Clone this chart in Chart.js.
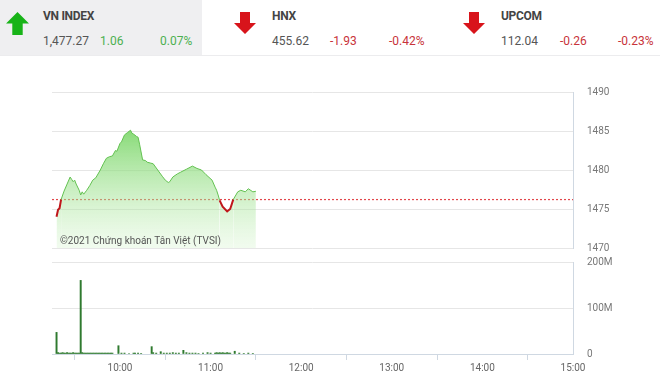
<!DOCTYPE html>
<html>
<head>
<meta charset="utf-8">
<script src="https://cdn.jsdelivr.net/npm/chart.js@4/dist/chart.umd.min.js"></script>
<style>
  body { margin: 0; width: 660px; height: 383px; background: #fff; font-family: Roboto, "Noto Sans", sans-serif; overflow: hidden; position: relative; }
  .hdr { position: absolute; top: 0; left: 0; width: 660px; height: 55px; border-bottom: 1px solid #ececee; }
  .box { position: absolute; top: 0; height: 55px; }
  .box.on { background: #efeff1; }
  .name { position: absolute; top: 9px; font-size: 12px; font-weight: bold; color: #444; letter-spacing: -0.3px; }
  .val { position: absolute; top: 34px; font-size: 12px; color: #555; }
  .up { color: #4cb050; }
  .dn { color: #c8333a; }
  .arrow { position: absolute; top: 11px; }
  canvas { position: absolute; left: 0; }
</style>
</head>
<body>
<div class="hdr">
  <div class="box on" style="left:0;width:202px"></div>
  <svg class="arrow" style="left:5px" width="25" height="25" viewBox="0 0 24 24"><path d="M12 1 L23 12 L17 12 L17 23 L7 23 L7 12 L1 12 Z" fill="#18b318"/></svg>
  <div class="name" style="left:43px">VN INDEX</div>
  <div class="val" style="left:43px">1,477.27</div>
  <div class="val up" style="left:100px">1.06</div>
  <div class="val up" style="left:160px">0.07%</div>

  <svg class="arrow" style="left:233px" width="24" height="24" viewBox="0 0 24 24"><path d="M12 23 L23 12 L17 12 L17 1 L7 1 L7 12 L1 12 Z" fill="#d8141b"/></svg>
  <div class="name" style="left:272px">HNX</div>
  <div class="val" style="left:272px">455.62</div>
  <div class="val dn" style="left:330px">-1.93</div>
  <div class="val dn" style="left:389px">-0.42%</div>

  <svg class="arrow" style="left:462px" width="24" height="24" viewBox="0 0 24 24"><path d="M12 23 L23 12 L17 12 L17 1 L7 1 L7 12 L1 12 Z" fill="#d8141b"/></svg>
  <div class="name" style="left:501px">UPCOM</div>
  <div class="val" style="left:501px">112.04</div>
  <div class="val dn" style="left:560px">-0.26</div>
  <div class="val dn" style="left:618px">-0.23%</div>
</div>

<canvas id="priceChart" width="660" height="196" style="top:72px"></canvas>
<canvas id="volChart" width="660" height="141" style="top:242px"></canvas>

<script>
// gia VN-Index theo phut
const priceTimes = ['9:18','9:19','9:20','9:21','9:23','9:25','9:27','9:28','9:29','9:30','9:31','9:33','9:34','9:35','9:36','9:38','9:40','9:42','9:44','9:47','9:49','9:51','9:53','9:55','9:57','9:58','10:00','10:01','10:03','10:05','10:07','10:08','10:09','10:11','10:12','10:13','10:15','10:17','10:18','10:20','10:22','10:25','10:28','10:30','10:32','10:33','10:35','10:38','10:40','10:44','10:48','10:51','10:54','10:57','11:01','11:03','11:04','11:05','11:06','11:08','11:11','11:13','11:15','11:18','11:20','11:23','11:25','11:28','11:30'];
const priceValues = [1474.0,1474.9,1475.1,1476.2,1477.3,1478.2,1479.1,1478.8,1478.5,1478.7,1478.2,1477.4,1476.8,1477.2,1476.9,1477.4,1478.0,1478.7,1479.0,1480.0,1480.8,1481.5,1481.7,1481.8,1482.5,1482.4,1483.4,1483.6,1484.5,1484.8,1485.1,1484.7,1484.6,1484.3,1484.2,1483.3,1481.3,1481.2,1481.0,1480.9,1480.8,1480.0,1479.2,1478.7,1478.4,1478.5,1479.1,1479.5,1479.7,1480.1,1480.5,1480.2,1480.0,1479.4,1478.7,1477.8,1477.4,1476.8,1476.1,1475.3,1474.7,1475.0,1476.2,1477.2,1477.4,1477.2,1477.6,1477.2,1477.27];
const refPrice = 1476.21;

// khoi luong (trieu cp)
const volTimes = ['9:18','9:19','9:20','9:21','9:22','9:23','9:24','9:25','9:26','9:27','9:28','9:29','9:30','9:31','9:32','9:33','9:34','9:35','9:36','9:37','9:38','9:39','9:40','9:41','9:42','9:43','9:44','9:45','9:46','9:47','9:48','9:49','9:50','9:51','9:52','9:53','9:54','9:55','9:59','10:01','10:03','10:06','10:09','10:10','10:12','10:14','10:21','10:22','10:24','10:27','10:29','10:31','10:33','10:35','10:37','10:39','10:42','10:44','10:46','10:48','10:50','10:52','10:55','10:58','11:00','11:03','11:04','11:05','11:06','11:07','11:08','11:09','11:10','11:11','11:12','11:13','11:16','11:19','11:22','11:25','11:28'];
const volValues = [47,3,2,2,3,2,2,3,2,2,2,3,2,2,2,2,160,3,2,2,2,2,2,2,2,2,2,2,2,2,2,2,2,2,2,2,2,2,18,2,2,1,2,2,2,1,16,3,2,5,2,2,2,3,2,2,8,3,2,2,2,1,2,3,2,2,3,2,3,2,3,2,2,3,2,2,6,2,1,2,1];

const hourTicks = [10, 11, 12, 13, 14, 15];
const priceTicks = [1470, 1475, 1480, 1485, 1490];
const volTicks = [0, 100, 200];

function toMin(t) {
    const p = t.split(':');
    return parseInt(p[0]) * 60 + parseInt(p[1]);
}

const xMin = 9 * 60 + 15;
const xMax = 15 * 60;
const green = '#62c150';
const red = '#c0161b';

const watermark = {
    id: 'watermark',
    afterDatasetsDraw(chart) {
        const ctx = chart.ctx;
        ctx.save();
        ctx.font = '10px Roboto';
        ctx.fillStyle = '#555';
        ctx.textBaseline = 'middle';
        ctx.fillText('©2021 Chứng khoán Tân Việt (TVSI)', 60, chart.chartArea.bottom - 7);
        ctx.restore();
    }
};

new Chart('priceChart', {
    type: 'line',
    data: {
        datasets: [{
            data: priceTimes.map((t, i) => ({x: toMin(t), y: priceValues[i]})),
            borderColor: green,
            borderWidth: 1,
            pointRadius: 0,
            tension: 0,
            fill: 'start',
            backgroundColor: function (context) {
                const area = context.chart.chartArea;
                if (!area) return 'rgba(120,210,100,0.5)';
                const g = context.chart.ctx.createLinearGradient(0, area.top + 35, 0, area.bottom);
                g.addColorStop(0, 'rgba(110,210,90,0.85)');
                g.addColorStop(1, 'rgba(200,240,190,0.25)');
                return g;
            },
            segment: {
                borderColor: ctx => (ctx.p0.parsed.y + ctx.p1.parsed.y) / 2 < refPrice ? red : green,
                borderWidth: ctx => (ctx.p0.parsed.y + ctx.p1.parsed.y) / 2 < refPrice ? 2 : 1
            }
        }, {
            data: [{x: xMin, y: refPrice}, {x: xMax, y: refPrice}],
            borderColor: '#e2464b',
            borderWidth: 1.2,
            borderDash: [2, 2],
            pointRadius: 0,
            fill: false
        }]
    },
    options: {
        responsive: false,
        animation: false,
        layout: { padding: { left: 52, top: 12, bottom: 7, right: 0 } },
        plugins: { legend: { display: false }, tooltip: { enabled: false } },
        scales: {
            x: { type: 'linear', min: xMin, max: xMax, display: false },
            y: {
                position: 'right',
                min: 1470,
                max: 1490,
                afterBuildTicks: s => { s.ticks = priceTicks.map(v => ({value: v})); },
                afterFit: s => { s.width = 87; },
                grid: { color: '#e6e6e6', drawTicks: false },
                border: { display: true, color: '#cfd8e2' },
                ticks: { color: '#777', font: { size: 10, family: 'Roboto' }, padding: 14, callback: v => String(v) }
            }
        }
    },
    plugins: [watermark]
});

new Chart('volChart', {
    type: 'bar',
    data: {
        datasets: [{
            data: volTimes.map((t, i) => ({x: toMin(t), y: volValues[i]})),
            backgroundColor: '#2f7a2f',
            barThickness: 1.3
        }]
    },
    options: {
        responsive: false,
        animation: false,
        layout: { padding: { left: 52, top: 7, bottom: 0, right: 0 } },
        plugins: { legend: { display: false }, tooltip: { enabled: false } },
        scales: {
            x: {
                type: 'linear',
                min: xMin,
                max: xMax,
                offset: false,
                afterBuildTicks: s => { s.ticks = hourTicks.map(h => ({value: h * 60})); },
                afterFit: s => { s.height = 29; },
                grid: { drawOnChartArea: false, drawTicks: true, tickLength: 6, color: '#cfd8e2' },
                border: { display: true, color: '#cfd8e2' },
                ticks: {
                    color: '#666',
                    font: { size: 10, family: 'Roboto' },
                    padding: 2,
                    maxRotation: 0,
                    autoSkip: false,
                    callback: v => (v / 60) + ':00'
                }
            },
            y: {
                position: 'right',
                min: 0,
                max: 200,
                afterBuildTicks: s => { s.ticks = volTicks.map(v => ({value: v})); },
                afterFit: s => { s.width = 87; },
                grid: { color: '#e6e6e6', drawTicks: false },
                border: { display: true, color: '#cfd8e2' },
                ticks: {
                    color: '#777',
                    font: { size: 10, family: 'Roboto' },
                    padding: 14,
                    callback: v => v === 0 ? '0' : v + 'M'
                }
            }
        }
    }
});
</script>
</body>
</html>
